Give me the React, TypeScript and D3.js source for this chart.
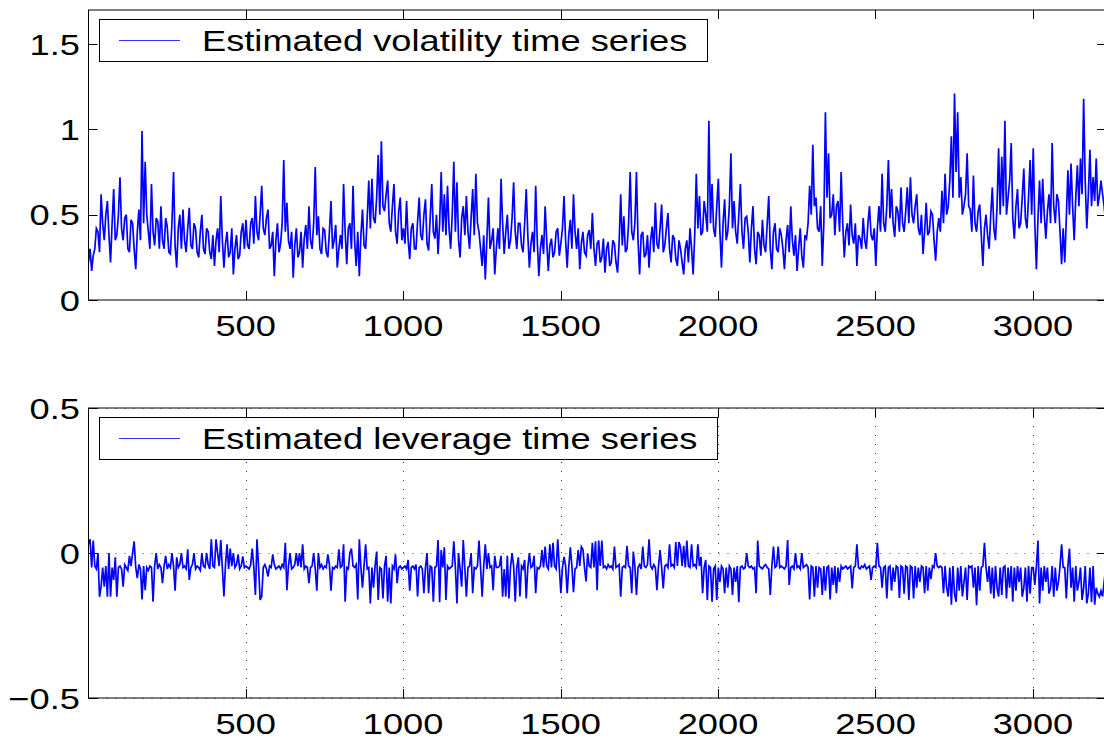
import React from "react";
import * as d3 from "d3";

// x positions are sample numbers
const xTicks = [500, 1000, 1500, 2000, 2500, 3000];
const volTicks = [0, 0.5, 1, 1.5];
const levTicks = [-0.5, 0, 0.5];
const sampleCount = 3232;

// volatility read at samples 1, 11, 21, ... (volatilityA) and 6, 16, 26, ... (volatilityB)
const volatilityA = [
  0.22, 0.17, 0.30, 0.40, 0.62, 0.35, 0.58, 0.22, 0.65, 0.38,
  0.72, 0.35, 0.50, 0.28, 0.45, 0.18, 0.53, 0.99, 0.81, 0.40,
  0.68, 0.32, 0.46, 0.55, 0.30, 0.43, 0.27, 0.75, 0.19, 0.50,
  0.53, 0.28, 0.54, 0.30, 0.42, 0.25, 0.50, 0.27, 0.40, 0.24,
  0.20, 0.42, 0.61, 0.19, 0.40, 0.28, 0.15, 0.38, 0.26, 0.45,
  0.47, 0.30, 0.48, 0.61, 0.35, 0.67, 0.38, 0.53, 0.32, 0.14,
  0.45, 0.33, 0.82, 0.57, 0.30, 0.13, 0.42, 0.28, 0.19, 0.44,
  0.55, 0.30, 0.78, 0.49, 0.27, 0.41, 0.25, 0.58, 0.35, 0.19,
  0.38, 0.68, 0.21, 0.45, 0.67, 0.20, 0.14, 0.53, 0.30, 0.70,
  0.71, 0.45, 0.85, 0.93, 0.52, 0.70, 0.40, 0.68, 0.33, 0.60,
  0.42, 0.58, 0.24, 0.45, 0.30, 0.60, 0.35, 0.59, 0.29, 0.68,
  0.36, 0.27, 0.75, 0.62, 0.67, 0.30, 0.81, 0.69, 0.25, 0.55,
  0.61, 0.30, 0.65, 0.74, 0.40, 0.20, 0.12, 0.60, 0.35, 0.15,
  0.42, 0.71, 0.27, 0.50, 0.35, 0.69, 0.30, 0.45, 0.28, 0.65,
  0.19, 0.40, 0.67, 0.14, 0.38, 0.55, 0.17, 0.36, 0.28, 0.42,
  0.33, 0.61, 0.19, 0.47, 0.62, 0.30, 0.18, 0.40, 0.26, 0.41,
  0.51, 0.20, 0.35, 0.25, 0.16, 0.34, 0.22, 0.33, 0.16, 0.62,
  0.49, 0.30, 0.75, 0.35, 0.75, 0.15, 0.40, 0.27, 0.19, 0.43,
  0.57, 0.30, 0.56, 0.32, 0.51, 0.22, 0.36, 0.20, 0.30, 0.15,
  0.35, 0.42, 0.15, 0.74, 0.61, 0.40, 0.50, 1.05, 0.68, 0.37,
  0.71, 0.19, 0.59, 0.40, 0.86, 0.58, 0.33, 0.68, 0.30, 0.49,
  0.22, 0.55, 0.21, 0.38, 0.47, 0.28, 0.61, 0.18, 0.45, 0.28,
  0.38, 0.18, 0.44, 0.55, 0.26, 0.17, 0.42, 0.19, 0.36, 0.67,
  0.91, 0.60, 0.40, 0.20, 1.10, 0.86, 0.50, 0.38, 0.58, 0.75,
  0.25, 0.45, 0.56, 0.33, 0.20, 0.36, 0.48, 0.30, 0.55, 0.35,
  0.20, 0.55, 0.74, 0.40, 0.82, 0.65, 0.37, 0.52, 0.66, 0.40,
  0.66, 0.72, 0.45, 0.62, 0.38, 0.27, 0.57, 0.40, 0.50, 0.23,
  0.48, 0.64, 0.74, 0.55, 0.96, 1.21, 1.10, 0.72, 0.55, 0.86,
  0.53, 0.73, 0.40, 0.56, 0.20, 0.50, 0.30, 0.66, 0.35, 0.89,
  0.84, 1.05, 0.60, 0.92, 0.36, 0.65, 0.45, 0.77, 0.42, 0.82,
  0.89, 0.18, 0.70, 0.71, 0.36, 0.62, 0.92, 0.45, 0.58, 0.21,
  0.22, 0.76, 0.80, 0.35, 0.79, 0.83, 1.18, 0.42, 0.88, 0.72,
  0.83, 0.61, 0.62, 0.45,
];

const volatilityB = [
  0.30, 0.26, 0.42, 0.28, 0.45, 0.50, 0.38, 0.45, 0.35, 0.50,
  0.42, 0.48, 0.30, 0.47, 0.30, 0.40, 0.35, 0.45, 0.50, 0.30,
  0.40, 0.48, 0.30, 0.35, 0.48, 0.28, 0.45, 0.32, 0.42, 0.30,
  0.35, 0.42, 0.32, 0.45, 0.28, 0.40, 0.30, 0.42, 0.28, 0.38,
  0.35, 0.28, 0.35, 0.33, 0.25, 0.42, 0.30, 0.24, 0.40, 0.30,
  0.32, 0.45, 0.33, 0.40, 0.50, 0.42, 0.48, 0.30, 0.40, 0.35,
  0.28, 0.45, 0.40, 0.35, 0.40, 0.32, 0.25, 0.40, 0.36, 0.30,
  0.35, 0.45, 0.38, 0.30, 0.42, 0.28, 0.40, 0.30, 0.44, 0.30,
  0.30, 0.40, 0.42, 0.30, 0.35, 0.40, 0.38, 0.32, 0.48, 0.42,
  0.48, 0.60, 0.50, 0.55, 0.62, 0.45, 0.55, 0.40, 0.52, 0.35,
  0.33, 0.35, 0.42, 0.30, 0.46, 0.38, 0.50, 0.33, 0.48, 0.40,
  0.50, 0.45, 0.40, 0.38, 0.42, 0.50, 0.40, 0.35, 0.48, 0.38,
  0.40, 0.48, 0.38, 0.45, 0.30, 0.38, 0.35, 0.30, 0.42, 0.30,
  0.30, 0.45, 0.40, 0.30, 0.48, 0.40, 0.45, 0.32, 0.45, 0.38,
  0.33, 0.28, 0.35, 0.30, 0.27, 0.35, 0.32, 0.25, 0.40, 0.26,
  0.42, 0.35, 0.38, 0.30, 0.40, 0.42, 0.33, 0.28, 0.38, 0.30,
  0.30, 0.33, 0.22, 0.36, 0.30, 0.20, 0.35, 0.22, 0.34, 0.32,
  0.28, 0.45, 0.40, 0.45, 0.35, 0.38, 0.25, 0.38, 0.35, 0.28,
  0.33, 0.42, 0.28, 0.42, 0.30, 0.38, 0.24, 0.35, 0.22, 0.30,
  0.22, 0.30, 0.38, 0.42, 0.38, 0.58, 0.40, 0.45, 0.42, 0.55,
  0.40, 0.45, 0.35, 0.55, 0.42, 0.40, 0.50, 0.40, 0.48, 0.40,
  0.42, 0.30, 0.40, 0.26, 0.32, 0.44, 0.30, 0.40, 0.30, 0.42,
  0.30, 0.35, 0.28, 0.35, 0.38, 0.30, 0.26, 0.38, 0.45, 0.50,
  0.55, 0.42, 0.55, 0.45, 0.60, 0.48, 0.62, 0.55, 0.40, 0.45,
  0.40, 0.32, 0.38, 0.45, 0.38, 0.30, 0.35, 0.45, 0.38, 0.42,
  0.42, 0.40, 0.45, 0.55, 0.48, 0.45, 0.55, 0.40, 0.45, 0.52,
  0.45, 0.50, 0.55, 0.42, 0.50, 0.40, 0.38, 0.52, 0.35, 0.40,
  0.40, 0.45, 0.50, 0.70, 0.60, 0.75, 0.60, 0.50, 0.62, 0.55,
  0.40, 0.45, 0.52, 0.38, 0.42, 0.38, 0.50, 0.42, 0.55, 0.50,
  0.55, 0.50, 0.70, 0.48, 0.55, 0.42, 0.60, 0.48, 0.60, 0.50,
  0.45, 0.48, 0.45, 0.50, 0.52, 0.45, 0.55, 0.62, 0.40, 0.42,
  0.48, 0.50, 0.55, 0.60, 0.55, 0.62, 0.70, 0.62, 0.55, 0.58,
  0.55, 0.70, 0.55,
];

// leverage read at samples 1, 6, 11, ...
const leverage = [
  0.03, 0.047, -0.05, 0.043, -0.045, -0.055, 0.0, -0.151, -0.116, -0.05, -0.116, -0.045, -0.151, 0.0, -0.151, -0.05, -0.093, -0.015, -0.151, -0.05,
  -0.045, -0.055, -0.116, -0.04, -0.05, -0.06, -0.01, -0.045, 0.0, 0.04, -0.05, -0.087, -0.04, -0.055, -0.16, -0.045, -0.128, -0.05, -0.06, -0.045,
  -0.05, -0.168, -0.045, 0.0, -0.055, -0.04, -0.05, -0.104, -0.045, -0.01, -0.055, -0.04, -0.05, 0.0, -0.045, -0.13, -0.015, -0.05, -0.04, 0.0,
  -0.05, -0.045, -0.055, 0.013, -0.093, -0.05, -0.04, 0.0, -0.055, -0.045, -0.05, -0.06, 0.0, -0.045, -0.05, 0.0, -0.04, -0.055, 0.047, -0.045,
  -0.05, 0.047, 0.0, -0.045, 0.045, -0.05, -0.15, -0.04, 0.03, -0.055, 0.015, -0.045, 0.0, -0.05, -0.04, -0.005, -0.055, -0.045, -0.012, -0.05,
  -0.045, -0.05, -0.055, -0.04, 0.015, -0.05, -0.145, 0.047, -0.045, -0.162, -0.15, -0.05, -0.04, -0.055, -0.081, -0.045, -0.05, -0.005, -0.04, -0.055,
  -0.05, -0.045, -0.055, -0.04, -0.05, 0.035, -0.128, -0.045, 0.0, -0.055, -0.05, -0.04, 0.0, -0.045, 0.0, -0.05, 0.03, -0.055, -0.045, -0.05,
  -0.104, -0.05, -0.045, 0.0, -0.055, -0.13, 0.0, -0.05, -0.04, -0.055, -0.045, -0.05, -0.005, -0.04, -0.13, -0.05, -0.055, -0.045, -0.05, 0.013,
  -0.05, -0.045, 0.03, -0.168, -0.05, -0.055, 0.0, 0.015, -0.045, -0.05, -0.04, -0.16, 0.047, -0.05, -0.12, -0.045, 0.03, -0.055, -0.05, -0.174,
  -0.05, -0.12, -0.045, 0.005, -0.162, -0.05, -0.055, -0.157, -0.045, -0.01, -0.168, -0.05, -0.174, -0.045, -0.055, -0.005, -0.104, -0.05, -0.045, -0.055,
  -0.05, -0.045, -0.055, -0.024, -0.13, -0.05, -0.045, -0.055, -0.04, -0.15, -0.05, -0.045, -0.055, -0.139, -0.05, 0.0, -0.139, -0.045, -0.05, -0.168,
  -0.05, -0.045, 0.045, -0.17, 0.01, -0.05, 0.02, -0.162, -0.045, -0.055, -0.05, -0.045, 0.04, -0.05, -0.174, 0.0, -0.055, -0.116, 0.045, -0.05,
  -0.151, -0.05, -0.045, 0.0, -0.139, -0.05, -0.055, -0.045, 0.043, -0.05, -0.151, -0.045, 0.03, -0.055, 0.0, -0.05, -0.045, -0.128, -0.01, -0.05,
  -0.05, -0.045, -0.01, -0.151, -0.055, -0.151, -0.01, -0.157, -0.05, 0.0, -0.045, -0.168, -0.05, -0.015, -0.15, -0.045, -0.055, -0.024, -0.157, -0.05,
  0.0, -0.05, -0.045, -0.01, -0.139, -0.05, -0.055, -0.045, 0.01, -0.05, 0.022, -0.045, -0.055, 0.03, -0.05, 0.035, -0.045, -0.055, 0.047, -0.05,
  -0.139, -0.05, -0.013, -0.045, -0.139, -0.05, 0.02, -0.045, -0.135, -0.055, -0.05, 0.01, -0.045, 0.022, 0.013, -0.05, -0.098, -0.001, -0.045, -0.05,
  0.035, -0.05, 0.04, -0.128, 0.043, -0.045, 0.043, -0.05, -0.045, -0.055, -0.04, -0.05, -0.045, -0.055, 0.022, -0.05, -0.045, -0.04, -0.151, -0.05,
  -0.045, -0.05, 0.025, -0.045, -0.05, -0.139, 0.005, -0.045, -0.145, -0.05, -0.04, -0.055, 0.022, -0.045, -0.05, -0.04, 0.047, -0.045, -0.055, -0.04,
  -0.05, -0.128, -0.045, 0.01, -0.05, -0.122, -0.045, -0.04, -0.05, 0.03, -0.045, -0.04, -0.05, 0.038, -0.045, 0.038, 0.02, -0.045, 0.025, -0.05,
  0.043, -0.045, -0.05, 0.03, -0.045, -0.04, -0.05, 0.03, -0.045, -0.013, -0.139, -0.05, -0.024, -0.162, -0.045, -0.05, -0.168, -0.055, -0.045, -0.162,
  -0.05, -0.1, -0.045, -0.055, -0.139, -0.05, -0.12, -0.045, -0.055, -0.145, -0.05, -0.1, -0.045, -0.17, -0.05, -0.045, -0.055, -0.05, 0.0, -0.045,
  -0.05, -0.045, -0.055, -0.05, -0.139, 0.043, -0.045, -0.05, -0.055, -0.045, -0.04, -0.05, -0.055, -0.145, -0.045, 0.022, -0.05, -0.045, 0.022, -0.05,
  -0.045, -0.05, -0.055, -0.045, 0.045, -0.11, -0.05, -0.045, -0.055, 0.0, -0.05, -0.045, -0.055, 0.0, -0.05, -0.045, -0.04, -0.05, -0.16, -0.045,
  -0.05, -0.151, -0.045, -0.12, -0.05, -0.055, -0.145, -0.045, -0.13, -0.05, -0.045, -0.16, -0.05, -0.11, -0.045, -0.139, -0.05, -0.1, -0.045, -0.055,
  -0.05, -0.045, -0.055, -0.05, -0.045, -0.122, -0.05, -0.045, 0.03, -0.05, -0.055, -0.045, -0.05, -0.04, -0.055, -0.05, -0.045, -0.093, -0.05, -0.045,
  -0.05, 0.035, -0.045, -0.05, -0.12, -0.05, -0.045, -0.157, -0.05, -0.045, -0.13, -0.05, -0.1, -0.045, -0.05, -0.155, -0.045, -0.05, -0.14, -0.045,
  -0.05, -0.162, -0.045, -0.05, -0.157, -0.045, -0.12, -0.05, -0.1, -0.045, -0.05, -0.139, -0.045, -0.13, -0.05, -0.09, -0.045, -0.05, 0.0, -0.045,
  -0.05, -0.045, -0.05, -0.139, -0.045, -0.12, -0.15, -0.05, -0.178, -0.045, -0.14, -0.168, -0.05, -0.13, -0.045, -0.15, -0.1, -0.05, -0.162, -0.045,
  -0.05, -0.045, -0.12, -0.05, -0.18, -0.045, -0.13, -0.05, -0.045, 0.035, -0.05, -0.1, -0.045, -0.14, -0.05, -0.157, -0.045, -0.12, -0.15, -0.05,
  -0.145, -0.05, -0.045, -0.157, -0.05, -0.12, -0.045, -0.168, -0.05, -0.13, -0.045, -0.1, -0.05, -0.151, -0.12, -0.05, -0.168, -0.045, -0.14, -0.05,
  -0.05, -0.11, -0.045, 0.043, -0.174, -0.05, -0.13, -0.045, -0.1, -0.05, -0.14, -0.12, -0.045, -0.151, -0.05, -0.13, -0.1, -0.045, 0.03, -0.05,
  -0.05, -0.157, -0.045, 0.015, -0.12, -0.05, -0.168, -0.045, -0.13, -0.1, -0.05, -0.162, -0.12, -0.045, -0.174, -0.14, -0.05, -0.17, -0.045, -0.178,
  -0.12, -0.14, -0.151, -0.13, -0.15, -0.1, -0.05,
];

const width = 1104;
const height = 740;
const plotLeft = 88.5;
const plotRight = 1106;
const plotHeight = 290;
const tickLen = 9;
const font = "'Liberation Sans', Arial, Helvetica, sans-serif";
const fontSize = 29;
const stretch = 1.25; // the original figure is stretched sideways

const fmt = d3.format("~g");

// pair each value with its sample number
const volPoints: [number, number][] = d3.sort(
  [
    ...volatilityA.map((v, i) => [1 + i * 10, v] as [number, number]),
    ...volatilityB.map((v, i) => [6 + i * 10, v] as [number, number]),
  ],
  (p) => p[0]
);
const levPoints: [number, number][] = leverage.map((v, i) => [1 + i * 5, v]);

const Label = ({ x, y, anchor, children }: any) => (
  <text
    transform={`translate(${x},${y}) scale(${stretch},1)`}
    textAnchor={anchor}
    fontSize={fontSize}
    fontFamily={font}
    fill="#000"
  >
    {children}
  </text>
);

const Panel = ({ id, top, yDomain, yTicks, points, legendText, legendRight, grid }: any) => {
  const x = d3.scaleLinear().domain([1, sampleCount]).range([plotLeft, plotRight]);
  const y = d3.scaleLinear().domain(yDomain).range([top + plotHeight, top]);
  const bottom = top + plotHeight;
  const line = d3
    .line<[number, number]>()
    .x((d) => x(d[0]))
    .y((d) => y(d[1]));

  return (
    <g>
      <defs>
        <clipPath id={id}>
          <rect x={plotLeft} y={top} width={plotRight - plotLeft} height={plotHeight} />
        </clipPath>
      </defs>

      {/* dotted grid, bottom panel only */}
      {grid && (
        <g stroke="#444" strokeWidth={1} strokeDasharray="1,8">
          {xTicks.map((t) => (
            <line key={"gx" + t} x1={Math.round(x(t)) + 0.5} x2={Math.round(x(t)) + 0.5} y1={top} y2={bottom} />
          ))}
          {yTicks.map((t: number) => (
            <line key={"gy" + t} x1={plotLeft} x2={plotRight} y1={Math.round(y(t)) + 0.5} y2={Math.round(y(t)) + 0.5} />
          ))}
        </g>
      )}

      <path
        d={line(points) || ""}
        fill="none"
        stroke="#0000ff"
        strokeWidth={1.7}
        clipPath={`url(#${id})`}
      />

      {/* axes box with inward ticks */}
      <rect x={plotLeft} y={top} width={plotRight - plotLeft} height={plotHeight} fill="none" stroke="#000" strokeWidth={1} />
      <g stroke="#000" strokeWidth={1}>
        {xTicks.map((t) => {
          const px = Math.round(x(t)) + 0.5;
          return (
            <g key={"tx" + t}>
              <line x1={px} x2={px} y1={bottom} y2={bottom - tickLen} />
              <line x1={px} x2={px} y1={top} y2={top + tickLen} />
            </g>
          );
        })}
        {yTicks.map((t: number) => {
          const py = Math.round(y(t)) + 0.5;
          return (
            <g key={"ty" + t}>
              <line x1={plotLeft} x2={plotLeft + tickLen} y1={py} y2={py} />
              <line x1={plotRight} x2={plotRight - tickLen} y1={py} y2={py} />
            </g>
          );
        })}
      </g>

      {xTicks.map((t) => (
        <Label key={"lx" + t} x={x(t)} y={bottom + 35.5} anchor="middle">
          {fmt(t)}
        </Label>
      ))}
      {yTicks.map((t: number) => (
        <Label key={"ly" + t} x={80} y={y(t) + 10.5} anchor="end">
          {fmt(t)}
        </Label>
      ))}

      {/* legend */}
      <rect x={99.5} y={top + 9.5} width={legendRight - 99.5} height={42} fill="#fff" stroke="#000" strokeWidth={1} />
      <line x1={119} x2={180} y1={top + 30.5} y2={top + 30.5} stroke="#3333ff" strokeWidth={1} />
      <Label x={202} y={top + 41} anchor="start">
        {legendText}
      </Label>
    </g>
  );
};

export default function App() {
  return (
    <svg
      width={width}
      height={height}
      style={{ position: "absolute", left: 0, top: 0, background: "#fff" }}
    >
      <rect width={width} height={height} fill="#fff" />
      <Panel
        id="clipVol"
        top={10}
        yDomain={[0, 1.7]}
        yTicks={volTicks}
        points={volPoints}
        legendText="Estimated volatility time series"
        legendRight={707.5}
        grid={false}
      />
      <Panel
        id="clipLev"
        top={408}
        yDomain={[-0.5, 0.5]}
        yTicks={levTicks}
        points={levPoints}
        legendText="Estimated leverage time series"
        legendRight={717.5}
        grid={true}
      />
    </svg>
  );
}
